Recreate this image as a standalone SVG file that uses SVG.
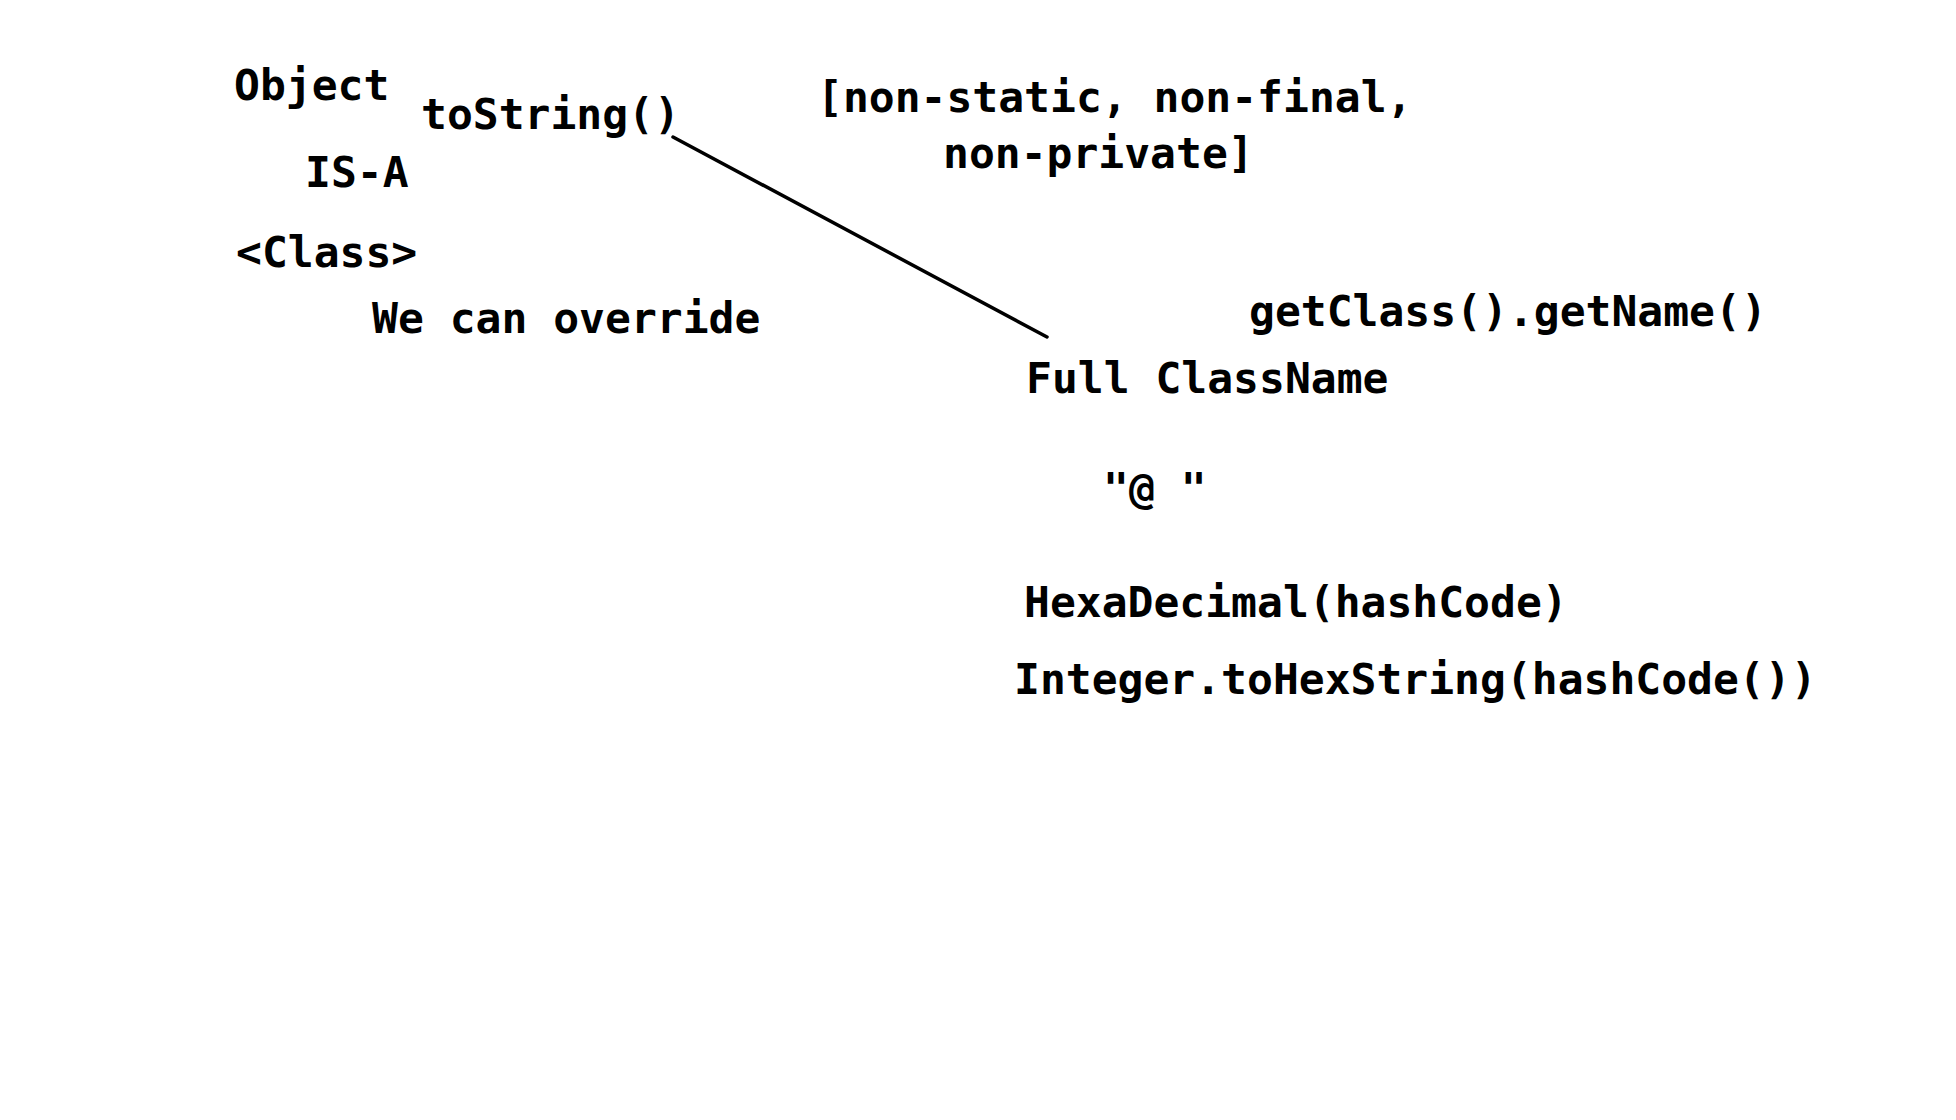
<svg xmlns="http://www.w3.org/2000/svg" width="1956" height="1120" viewBox="0 0 1956 1120">
<style>
.t{font-family:"DejaVu Sans Mono","Liberation Mono",monospace;font-weight:bold;font-size:43px;fill:#000;white-space:pre}
.c{stroke:#000;stroke-width:3.5;fill:none;stroke-linecap:round}
</style>
<rect x="0" y="0" width="1956" height="1120" fill="#fff"/>
<g id="connectors">
<line class="c" x1="673" y1="137" x2="1047" y2="337"/>
</g>
<g id="object"><text class="t" x="234" y="100">Object</text></g>
<g id="tostring"><text class="t" x="421" y="129">toString()</text></g>
<g id="isa"><text class="t" x="305" y="187">IS-A</text></g>
<g id="class"><text class="t" x="236" y="267">&lt;Class&gt;</text></g>
<g id="override"><text class="t" x="372" y="333">We can override</text></g>
<g id="modifiers"><text class="t" x="817" y="112">[non-static, non-final,</text><text class="t" x="943" y="168">non-private]</text></g>
<g id="getname"><text class="t" x="1249" y="326">getClass().getName()</text></g>
<g id="fullclassname"><text class="t" x="1026" y="393">Full ClassName</text></g>
<g id="at"><text class="t" x="1103" y="503">"@ "</text></g>
<g id="hexadecimal"><text class="t" x="1024" y="617">HexaDecimal(hashCode)</text></g>
<g id="tohexstring"><text class="t" x="1014" y="694">Integer.toHexString(hashCode())</text></g>
</svg>
